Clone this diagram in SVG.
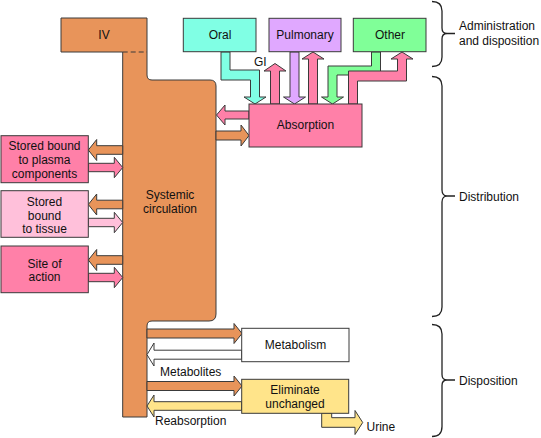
<svg xmlns="http://www.w3.org/2000/svg" width="541" height="438" viewBox="0 0 541 438">
<style>
text{font-family:"Liberation Sans",Arial,sans-serif;font-size:12px;fill:#111}
.m{text-anchor:middle}
.s{stroke:#3a3a3a;stroke-width:1;stroke-linejoin:miter}
.or{fill:#E8945A}
.pk{fill:#FF80A8}
.lp{fill:#FFC0DA}
.cy{fill:#80FFE4}
.pu{fill:#E0A8FF}
.gr{fill:#80FF98}
.ye{fill:#FFE48A}
.wh{fill:#fff}
.br{fill:none;stroke:#222;stroke-width:1.3}
</style>
<rect width="541" height="438" fill="#fff"/>

<g id="circulation">
<path class="or" d="M61,18 L147,18 L147,75 Q147,80 152,80 L210,80 Q216,80 216,86 L216,314 Q216,321 209,321 L152,321 Q147,321 147,326 L147,417 L122.7,417 L122.7,52 L61,52 Z"/>
<path class="s" fill="none" d="M122.7,52 L61,52 L61,18 L147,18 L147,75 Q147,80 152,80 L210,80 Q216,80 216,86 L216,314 Q216,321 209,321 L152,321 Q147,321 147,326 L147,417 L122.7,417 L122.7,52"/>
<line class="s" x1="122.7" y1="52" x2="147" y2="52" stroke-dasharray="5,3"/>
<text class="m" x="104" y="39">IV</text>
<text class="m" x="170" y="199">Systemic</text>
<text class="m" x="170" y="212.5">circulation</text>
</g>

<g id="connectors">
<!-- top -->
<path class="s cy" d="M221,52 L221,80 L250.5,80 L250.5,97 L244,97 L255,104 L266,97 L259.5,97 L259.5,70 L230,70 L230,52 Z"/>
<path class="s pk" d="M270.5,104 L270.5,71 L264,71 L275,63.5 L286,71 L279.5,71 L279.5,104 Z"/>
<path class="s pu" d="M290,52 L290,97 L283.5,97 L294.5,104 L305.5,97 L299,97 L299,52 Z"/>
<path class="s pk" d="M308.5,104 L308.5,59 L302,59 L313,52 L324,59 L317.5,59 L317.5,104 Z"/>
<path class="s gr" d="M371.5,52 L371.5,66 L328,66 L328,97 L321.5,97 L332.5,104 L343.5,97 L337,97 L337,75 L380.5,75 L380.5,52 Z"/>
<path class="s pk" d="M348.5,104 L348.5,71 L397.5,71 L397.5,59 L391,59 L402,52 L413,59 L406.5,59 L406.5,81 L357.5,81 L357.5,104 Z"/>
<!-- absorption <-> circulation -->
<path class="s pk" d="M249,111 L225,111 L225,105 L216.5,115 L225,125 L225,119 L249,119 Z"/>
<path class="s or" d="M216,131 L241,131 L241,125 L249,135.5 L241,146 L241,140 L216,140 Z"/>
<!-- left boxes -->
<path class="s or" d="M122.7,145.7 L96.7,145.7 L96.7,139.5 L88.3,150 L96.7,160.5 L96.7,154.3 L122.7,154.3 Z"/>
<path class="s pk" d="M88.3,163.3 L114.3,163.3 L114.3,157.3 L122.7,167.5 L114.3,177.7 L114.3,171.7 L88.3,171.7 Z"/>
<path class="s or" d="M122.7,200.2 L96.7,200.2 L96.7,194 L88.3,204.5 L96.7,215 L96.7,208.8 L122.7,208.8 Z"/>
<path class="s lp" d="M88.3,218.3 L114.3,218.3 L114.3,212.3 L122.7,222.5 L114.3,232.7 L114.3,226.7 L88.3,226.7 Z"/>
<path class="s or" d="M122.7,255.7 L96.7,255.7 L96.7,249.5 L88.3,260 L96.7,270.5 L96.7,264.3 L122.7,264.3 Z"/>
<path class="s pk" d="M88.3,273.3 L114.3,273.3 L114.3,267.3 L122.7,277.5 L114.3,287.7 L114.3,281.7 L88.3,281.7 Z"/>
<!-- bottom -->
<path class="s or" d="M147,329 L234,329 L234,323.5 L242,333.5 L234,343.5 L234,338 L147,338 Z"/>
<path class="s wh" d="M241.7,350.2 L154,350.2 L154,343 L147,354.7 L154,366 L154,359.2 L241.7,359.2 Z"/>
<path class="s or" d="M147,381.5 L234,381.5 L234,376 L242,386 L234,396 L234,390.5 L147,390.5 Z"/>
<path class="s ye" d="M241.7,401.7 L154,401.7 L154,395 L147,406 L154,417 L154,410.3 L241.7,410.3 Z"/>
<path class="s ye" d="M321.7,413 L321.7,427.3 L355,427.3 L355,434.5 L362.7,422.5 L355,410.5 L355,417.7 L331.7,417.7 L331.7,413 Z"/>
</g>

<g id="oral"><rect class="s cy" x="183.3" y="18.3" width="72.7" height="33.4"/><text class="m" x="220" y="39">Oral</text></g>
<g id="pulmonary"><rect class="s pu" x="269" y="18.3" width="72" height="33.4"/><text class="m" x="305" y="39">Pulmonary</text></g>
<g id="other"><rect class="s gr" x="353.3" y="18.3" width="72.7" height="33.4"/><text class="m" x="390" y="39">Other</text></g>
<g id="gi-label"><text x="254" y="66">GI</text></g>
<g id="absorption"><rect class="s pk" x="249" y="104" width="113" height="43"/><text class="m" x="305.5" y="129">Absorption</text></g>

<g id="plasma"><rect class="s pk" x="1" y="135.7" width="87.3" height="47"/>
<text class="m" x="44.5" y="150.3">Stored bound</text><text class="m" x="44.5" y="164">to plasma</text><text class="m" x="44.5" y="177.6">components</text></g>
<g id="tissue"><rect class="s lp" x="1" y="190.7" width="87.3" height="46.6"/>
<text class="m" x="44.5" y="206">Stored</text><text class="m" x="44.5" y="219.8">bound</text><text class="m" x="44.5" y="233.3">to tissue</text></g>
<g id="site"><rect class="s pk" x="1" y="246" width="87.3" height="46.7"/>
<text class="m" x="44.5" y="267.6">Site of</text><text class="m" x="44.5" y="281">action</text></g>

<g id="metabolism"><rect class="s wh" x="241.7" y="328.3" width="107.3" height="33.4"/><text class="m" x="295.5" y="349">Metabolism</text></g>
<g id="eliminate"><rect class="s ye" x="241.7" y="379.3" width="107" height="34"/>
<text class="m" x="295" y="394">Eliminate</text><text class="m" x="295" y="407.5">unchanged</text></g>
<g id="labels">
<text x="160" y="376">Metabolites</text>
<text x="155" y="425">Reabsorption</text>
<text x="366.5" y="431">Urine</text>
</g>

<g id="braces">
<path class="br" d="M432,1.5 C438,1.5 442,4 442,11 L442,28 C442,31.5 444,33.5 447,33.5 L455,33.5 M447,33.5 C444,33.5 442,35.5 442,39 L442,57 C442,64 438,66.5 432,66.5"/>
<path class="br" d="M432,76.5 C438,76.5 442,79 442,86 L442,190 C442,193.5 444,196 447,196 L455,196 M447,196 C444,196 442,198.5 442,202 L442,307 C442,314 438,316.5 432,316.5"/>
<path class="br" d="M432,324.5 C438,324.5 442,327 442,334 L442,374.5 C442,378 444,380 447,380 L455,380 M447,380 C444,380 442,382 442,385.5 L442,426.5 C442,433.5 438,436.5 432,436.5"/>
<text x="459" y="30">Administration</text>
<text x="459" y="44.5">and disposition</text>
<text x="459" y="201">Distribution</text>
<text x="459" y="385">Disposition</text>
</g>
</svg>
